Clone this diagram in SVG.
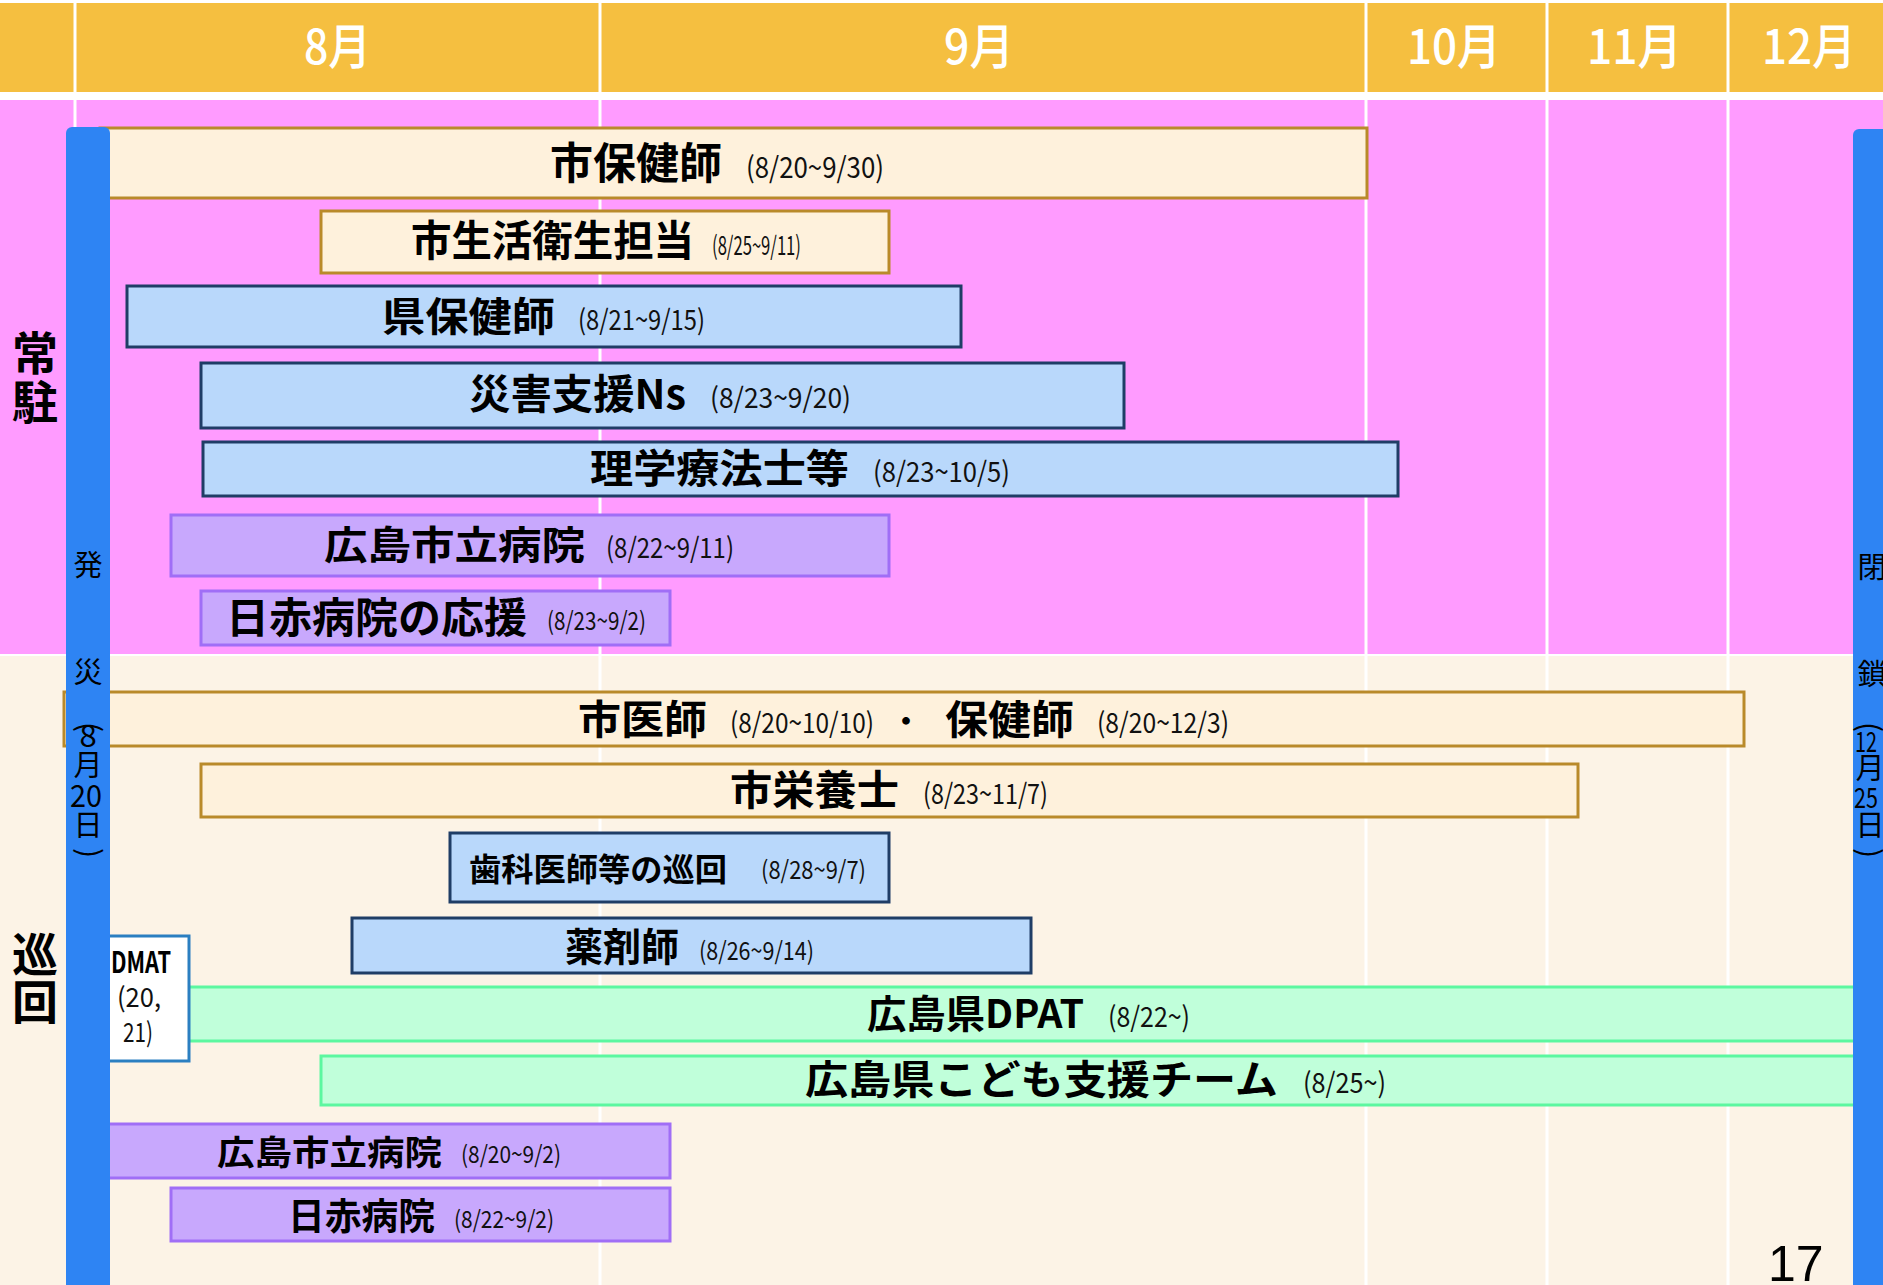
<svg xmlns="http://www.w3.org/2000/svg" width="1883" height="1285" viewBox="0 0 1883 1285">
<defs>
<style>
.lbl{font-family:"Noto Sans CJK JP","Noto Sans",sans-serif;font-weight:700;fill:#000}
.dt{font-family:"Noto Sans CJK JP","Noto Sans",sans-serif;font-weight:400;fill:#111}
.mon{font-family:"Noto Sans CJK JP","Noto Sans",sans-serif;font-weight:500;fill:#fff;font-size:48px}
.vt{font-family:"Noto Sans CJK JP","Noto Sans",sans-serif;font-weight:400;fill:#000;text-anchor:middle}
.side{font-family:"Noto Sans CJK JP","Noto Sans",sans-serif;font-weight:700;fill:#000;font-size:46px;text-anchor:middle}
.tan{fill:#FEF1DC;stroke:#B98A2A;stroke-width:3}
.blu{fill:#B9D8FB;stroke:#1F3D66;stroke-width:3}
.pur{fill:#C8A8FD;stroke:#A06EF6;stroke-width:3}
.grn{fill:#C0FFDA;stroke:#5CF7A0;stroke-width:3}
.grid{stroke:#fff;stroke-width:3}
.bar{fill:#2E84F3}
</style>
</defs>
<rect x="0" y="0" width="1883" height="1285" fill="#fff"/>
<g id="background">
<rect x="0" y="3" width="1883" height="89" fill="#F5BF40"/>
<rect x="0" y="100" width="1883" height="554" fill="#FF9BFF"/>
<rect x="0" y="656" width="1883" height="629" fill="#FCF3E6"/>
<line class="grid" x1="75" y1="3" x2="75" y2="1285"/>
<line class="grid" x1="600" y1="3" x2="600" y2="1285"/>
<line class="grid" x1="1366" y1="3" x2="1366" y2="1285"/>
<line class="grid" x1="1547" y1="3" x2="1547" y2="1285"/>
<line class="grid" x1="1728" y1="3" x2="1728" y2="1285"/>
</g>
<g id="months">
<text class="mon" x="304" y="64" textLength="67" lengthAdjust="spacingAndGlyphs">8月</text>
<text class="mon" x="944" y="64" textLength="70" lengthAdjust="spacingAndGlyphs">9月</text>
<text class="mon" x="1407" y="64" textLength="94" lengthAdjust="spacingAndGlyphs">10月</text>
<text class="mon" x="1587" y="64" textLength="95" lengthAdjust="spacingAndGlyphs">11月</text>
<text class="mon" x="1762" y="64" textLength="94" lengthAdjust="spacingAndGlyphs">12月</text>
</g>
<g id="side-labels">
<text class="side" x="35" y="370">常</text>
<text class="side" x="35" y="419">駐</text>
<text class="side" x="35" y="971">巡</text>
<text class="side" x="35" y="1019">回</text>
</g>
<g id="connectors"></g>
<g id="n1"><rect class="tan" x="100" y="128" width="1267" height="70"/>
<text class="lbl" x="550" y="179" font-size="43" textLength="172" lengthAdjust="spacingAndGlyphs">市保健師</text>
<text class="dt" x="746" y="178" font-size="29" textLength="138" lengthAdjust="spacingAndGlyphs">(8/20~9/30)</text></g>
<g id="n2"><rect class="tan" x="321" y="211" width="568" height="62"/>
<text class="lbl" x="411" y="256" font-size="42" textLength="283" lengthAdjust="spacingAndGlyphs">市生活衛生担当</text>
<text class="dt" x="712" y="255" font-size="26" textLength="89" lengthAdjust="spacingAndGlyphs">(8/25~9/11)</text></g>
<g id="n3"><rect class="blu" x="127" y="286" width="834" height="61"/>
<text class="lbl" x="382" y="331" font-size="40" textLength="173" lengthAdjust="spacingAndGlyphs">県保健師</text>
<text class="dt" x="578" y="330" font-size="28" textLength="127" lengthAdjust="spacingAndGlyphs">(8/21~9/15)</text></g>
<g id="n4"><rect class="blu" x="201" y="363" width="923" height="65"/>
<text class="lbl" x="469" y="409" font-size="41" textLength="217" lengthAdjust="spacingAndGlyphs">災害支援Ns</text>
<text class="dt" x="710" y="408" font-size="28" textLength="141" lengthAdjust="spacingAndGlyphs">(8/23~9/20)</text></g>
<g id="n5"><rect class="blu" x="203" y="442" width="1195" height="54"/>
<text class="lbl" x="590" y="483" font-size="40" textLength="259" lengthAdjust="spacingAndGlyphs">理学療法士等</text>
<text class="dt" x="873" y="482" font-size="28" textLength="137" lengthAdjust="spacingAndGlyphs">(8/23~10/5)</text></g>
<g id="n6"><rect class="pur" x="171" y="515" width="718" height="61"/>
<text class="lbl" x="324" y="559" font-size="39" textLength="261" lengthAdjust="spacingAndGlyphs">広島市立病院</text>
<text class="dt" x="606" y="558" font-size="28" textLength="128" lengthAdjust="spacingAndGlyphs">(8/22~9/11)</text></g>
<g id="n7"><rect class="pur" x="201" y="591" width="469" height="54"/>
<text class="lbl" x="226" y="633" font-size="42" textLength="301" lengthAdjust="spacingAndGlyphs">日赤病院の応援</text>
<text class="dt" x="547" y="630" font-size="25" textLength="99" lengthAdjust="spacingAndGlyphs">(8/23~9/2)</text></g>
<g id="n8"><rect class="tan" x="64" y="692" width="1680" height="54"/>
<text class="lbl" x="578" y="734" font-size="40" textLength="129" lengthAdjust="spacingAndGlyphs">市医師</text>
<text class="dt" x="730" y="733" font-size="28" textLength="144" lengthAdjust="spacingAndGlyphs">(8/20~10/10)</text>
<text class="lbl" x="906" y="732" font-size="30" text-anchor="middle">・</text>
<text class="lbl" x="945" y="734" font-size="40" textLength="129" lengthAdjust="spacingAndGlyphs">保健師</text>
<text class="dt" x="1097" y="733" font-size="28" textLength="132" lengthAdjust="spacingAndGlyphs">(8/20~12/3)</text></g>
<g id="n9"><rect class="tan" x="201" y="764" width="1377" height="53"/>
<text class="lbl" x="730" y="805" font-size="41" textLength="169" lengthAdjust="spacingAndGlyphs">市栄養士</text>
<text class="dt" x="923" y="804" font-size="28" textLength="125" lengthAdjust="spacingAndGlyphs">(8/23~11/7)</text></g>
<g id="n10"><rect class="blu" x="450" y="833" width="439" height="69"/>
<text class="lbl" x="469" y="881" font-size="32" textLength="258" lengthAdjust="spacingAndGlyphs">歯科医師等の巡回</text>
<text class="dt" x="761" y="879" font-size="25" textLength="105" lengthAdjust="spacingAndGlyphs">(8/28~9/7)</text></g>
<g id="n11"><rect class="blu" x="352" y="918" width="679" height="55"/>
<text class="lbl" x="565" y="961" font-size="39" textLength="114" lengthAdjust="spacingAndGlyphs">薬剤師</text>
<text class="dt" x="699" y="960" font-size="25" textLength="115" lengthAdjust="spacingAndGlyphs">(8/26~9/14)</text></g>
<g id="n12"><rect class="grn" x="188" y="987" width="1672" height="54"/>
<text class="lbl" x="867" y="1028" font-size="39" textLength="217" lengthAdjust="spacingAndGlyphs">広島県DPAT</text>
<text class="dt" x="1108" y="1027" font-size="28" textLength="82" lengthAdjust="spacingAndGlyphs">(8/22~)</text></g>
<g id="n13"><rect class="grn" x="321" y="1056" width="1539" height="49"/>
<text class="lbl" x="805" y="1094" font-size="40" textLength="473" lengthAdjust="spacingAndGlyphs">広島県こども支援チーム</text>
<text class="dt" x="1303" y="1093" font-size="28" textLength="83" lengthAdjust="spacingAndGlyphs">(8/25~)</text></g>
<g id="dmat"><rect x="100" y="936" width="89" height="125" fill="#fff" stroke="#2B7FC1" stroke-width="3"/>
<text class="lbl" x="111" y="973" font-size="29" textLength="60" lengthAdjust="spacingAndGlyphs">DMAT</text>
<text class="dt" x="117" y="1007" font-size="27" textLength="44" lengthAdjust="spacingAndGlyphs">(20,</text>
<text class="dt" x="123" y="1042" font-size="27" textLength="30" lengthAdjust="spacingAndGlyphs">21)</text></g>
<g id="n14"><rect class="pur" x="100" y="1124" width="570" height="54"/>
<text class="lbl" x="217" y="1165" font-size="34" textLength="225" lengthAdjust="spacingAndGlyphs">広島市立病院</text>
<text class="dt" x="461" y="1163" font-size="24" textLength="100" lengthAdjust="spacingAndGlyphs">(8/20~9/2)</text></g>
<g id="n15"><rect class="pur" x="171" y="1188" width="499" height="53"/>
<text class="lbl" x="288" y="1230" font-size="37" textLength="147" lengthAdjust="spacingAndGlyphs">日赤病院</text>
<text class="dt" x="454" y="1228" font-size="24" textLength="100" lengthAdjust="spacingAndGlyphs">(8/22~9/2)</text></g>
<g id="bar-left">
<path class="bar" d="M66,133 a6,6 0 0 1 6,-6 h32 a6,6 0 0 1 6,6 V1290 H66 Z"/>
<text class="vt" x="88" y="576" font-size="29">発</text>
<text class="vt" x="88" y="683" font-size="29">災</text>
<text class="vt" x="0" y="9" font-size="30" transform="translate(88,727) rotate(90)">(</text>
<text class="vt" x="88" y="747" font-size="31">8</text>
<text class="vt" x="88" y="776" font-size="29">月</text>
<text class="vt" x="86" y="807" font-size="31" textLength="32" lengthAdjust="spacingAndGlyphs">20</text>
<text class="vt" x="88" y="836" font-size="29">日</text>
<text class="vt" x="0" y="9" font-size="30" transform="translate(88,853) rotate(90)">)</text>
</g>
<g id="bar-right">
<path class="bar" d="M1853,135 a6,6 0 0 1 6,-6 h30 V1290 H1853 Z"/>
<text class="vt" x="1872" y="578" font-size="29">閉</text>
<text class="vt" x="1872" y="685" font-size="29">鎖</text>
<text class="vt" x="0" y="9" font-size="30" transform="translate(1868,727) rotate(90)">(</text>
<text class="vt" x="1866" y="752" font-size="28" textLength="22" lengthAdjust="spacingAndGlyphs">12</text>
<text class="vt" x="1870" y="779" font-size="29">月</text>
<text class="vt" x="1866" y="808" font-size="28" textLength="24" lengthAdjust="spacingAndGlyphs">25</text>
<text class="vt" x="1870" y="836" font-size="29">日</text>
<text class="vt" x="0" y="9" font-size="30" transform="translate(1868,853) rotate(90)">)</text>
</g>
<text x="1768" y="1281" font-family="Liberation Sans, Arial, sans-serif" font-size="50" fill="#000">17</text>
</svg>
